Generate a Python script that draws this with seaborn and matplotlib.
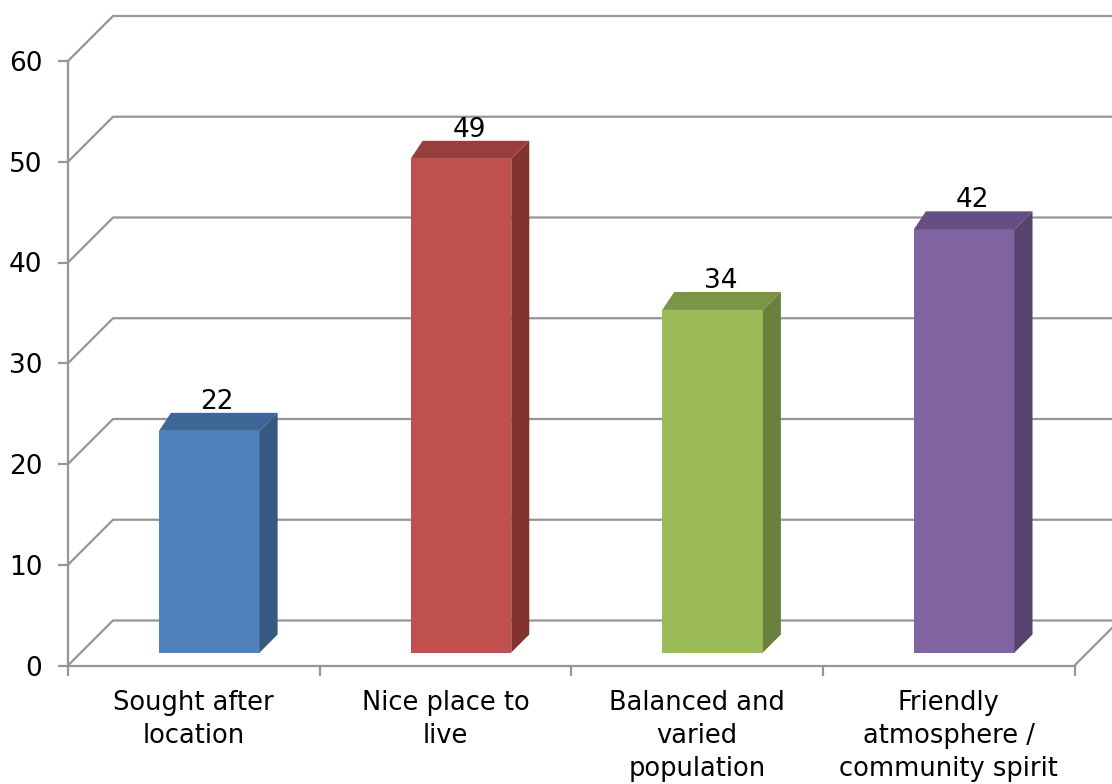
import numpy as np
import pandas as pd
import matplotlib
matplotlib.use("Agg")
import matplotlib.pyplot as plt
from matplotlib.patches import Polygon
import seaborn as sns

# ---- data ----
categories = ["Sought after\nlocation", "Nice place to\nlive", "Balanced and\nvaried\npopulation",
              "Friendly\natmosphere /\ncommunity spirit"]
values = [22, 49, 34, 42]
y_ticks = [0, 10, 20, 30, 40, 50, 60]
front_colors = ["#4F81BD", "#C0504D", "#9BBB59", "#8064A2"]
top_colors = ["#3E6797", "#983F3D", "#7B9547", "#654F82"]
side_colors = ["#36597F", "#82332F", "#6A7F3C", "#56446E"]

sns.set_style("white")
plt.rcParams['font.family'] = ['DejaVu Sans']
plt.rcParams['text.color'] = 'black'
plt.rcParams['xtick.labelcolor'] = 'black'
plt.rcParams['ytick.labelcolor'] = 'black'

W, H = 1112, 784
fig = plt.figure(figsize=(W / 100, H / 100), dpi=100)
left_px, right_px, bot_px, top_px = 68, 1074.5, 665.5, 61
ax = fig.add_axes([left_px / W, 1 - bot_px / H, (right_px - left_px) / W, (bot_px - top_px) / H])

df = pd.DataFrame({"cat": categories, "val": values})
sns.barplot(data=df, x="cat", y="val", hue="cat", palette=front_colors, width=0.4,
            saturation=1, legend=False, ax=ax, zorder=5)
ax.set_xlim(-0.5, 3.5)
ax.set_ylim(0, 60)

# pixel -> data conversions
px_x = 4.0 / (right_px - left_px)
px_y = 60.0 / (bot_px - top_px)

grid_c = "#959595"
lw = 1.6
# back wall depth
DX, DY = 45 * px_x, 45 * px_y
x0, x1 = -0.5, 3.5
for v in y_ticks:
    ax.plot([x0, x0 + DX, x1 + DX], [v, v + DY, v + DY], color=grid_c, lw=lw,
            clip_on=False, zorder=1, solid_capstyle="butt")
# right floor edge
ax.plot([x1, x1 + DX], [0, DY], color=grid_c, lw=lw, clip_on=False, zorder=1)

# 3D bars: shift front face and add top/side faces
fdx, fdy = 15.5 * px_x, 13 * px_y
bdx_l, bdx_r, bdy = 12 * px_x, 18 * px_x, 18 * px_y
for i, p in enumerate(ax.patches):
    bx, bw, h = p.get_x(), p.get_width(), p.get_height()
    p.set_x(bx + fdx)
    p.set_y(fdy)
    p.set_linewidth(0)
    xl, xr = bx + fdx, bx + bw + fdx
    yb, yt = fdy, fdy + h
    top = Polygon([(xl, yt), (xr, yt), (xr + bdx_r, yt + bdy), (xl + bdx_l, yt + bdy)],
                  closed=True, facecolor=top_colors[i], edgecolor="none", zorder=5)
    side = Polygon([(xr, yb), (xr + bdx_r, yb + bdy), (xr + bdx_r, yt + bdy), (xr, yt)],
                   closed=True, facecolor=side_colors[i], edgecolor="none", zorder=5)
    ax.add_patch(top)
    ax.add_patch(side)
    ax.text((xl + xr) / 2 + 8 * px_x, yt + bdy - 2 * px_y, f"{values[i]}", ha="center",
            va="bottom", fontsize=19, color="black", zorder=6)

# axes styling
for s in ["top", "right"]:
    ax.spines[s].set_visible(False)
for s in ["left", "bottom"]:
    ax.spines[s].set_color(grid_c)
    ax.spines[s].set_linewidth(lw)
    ax.spines[s].set_zorder(2)
ax.set_xlabel("")
ax.set_ylabel("")
ax.set_yticks(y_ticks)
ax.set_yticklabels([str(v) for v in y_ticks])
ax.tick_params(axis="y", length=7, width=lw, color=grid_c, pad=11.5, labelsize=19,
               labelcolor="black", direction="out", left=True)
ax.set_xticks(np.arange(-0.5, 4.0, 1.0))
ax.set_xticklabels([])
ax.set_xticks(np.arange(4), minor=True)
ax.set_xticklabels(categories, minor=True, fontsize=18.5, linespacing=1.33, color="black")
ax.tick_params(axis="x", which="major", length=7, width=lw, color=grid_c, direction="out", bottom=True)
ax.tick_params(axis="x", which="minor", length=0, pad=18)
ax.grid(False)

fig.savefig("out.png", dpi=100)
